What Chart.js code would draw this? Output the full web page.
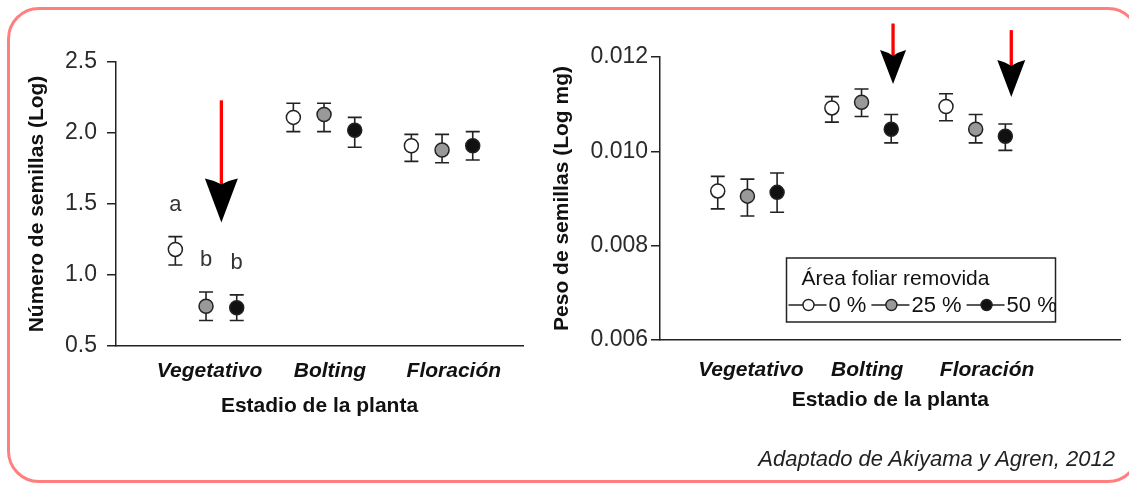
<!DOCTYPE html>
<html>
<head>
<meta charset="utf-8">
<script src="https://cdn.jsdelivr.net/npm/chart.js@4.4.1/dist/chart.umd.min.js"></script>
<style>
  html, body { margin: 0; padding: 0; background: #fff; }
  body { width: 1129px; height: 484px; position: relative; overflow: hidden; font-family: "Liberation Sans", Arial, sans-serif; }
  canvas { position: absolute; top: 0; }
  #left { left: 0; }
  #right { left: 540px; }
  .frame { position: absolute; left: 7px; top: 7px; width: 1133px; height: 476px; box-sizing: border-box;
           border: 3px solid #ff7f7f; border-radius: 32px; pointer-events: none; }
  .credit { position: absolute; right: 14px; top: 448px; font: italic 22px "Liberation Sans", Arial, sans-serif;
            line-height: 1; color: #222; white-space: nowrap; }
</style>
</head>
<body>
<canvas id="left" width="540" height="484"></canvas>
<canvas id="right" width="589" height="484"></canvas>
<div class="frame"></div>
<div class="credit">Adaptado de Akiyama y Agren, 2012</div>
<script>
// categories and treatments
const stages = ['Vegetativo', 'Bolting', 'Floración'];
const treatments = ['0 %', '25 %', '50 %'];
const legendTitle = 'Área foliar removida';

// Número de semillas (Log): mean, lower and upper end of error bar
const seedNum0 = [1.18, 2.11, 1.91];
const seedNum0Lo = [1.07, 2.01, 1.80];
const seedNum0Hi = [1.27, 2.21, 1.99];
const seedNum25 = [0.78, 2.13, 1.88];
const seedNum25Lo = [0.68, 2.01, 1.79];
const seedNum25Hi = [0.88, 2.21, 1.99];
const seedNum50 = [0.77, 2.02, 1.91];
const seedNum50Lo = [0.68, 1.90, 1.81];
const seedNum50Hi = [0.86, 2.11, 2.01];
const seedNumTicks = [0.5, 1.0, 1.5, 2.0, 2.5];

// Peso de semillas (Log mg)
const seedWt0 = [0.00916, 0.01092, 0.01095];
const seedWt0Lo = [0.00878, 0.01062, 0.01065];
const seedWt0Hi = [0.00947, 0.01116, 0.01122];
const seedWt25 = [0.00905, 0.01104, 0.01047];
const seedWt25Lo = [0.00863, 0.01074, 0.01018];
const seedWt25Hi = [0.00941, 0.01132, 0.01078];
const seedWt50 = [0.00913, 0.01047, 0.01032];
const seedWt50Lo = [0.00871, 0.01018, 0.01002];
const seedWt50Hi = [0.00954, 0.01078, 0.01058];
const seedWtTicks = [0.006, 0.008, 0.010, 0.012];

// significance letters over the Vegetativo points
const vegLetters = ['a', 'b', 'b'];

// layout bits
const dodge = [-0.26, 0, 0.26];
const stageLabelAt = [0.03, 1.05, 2.1];
const fills = ['#ffffff', '#999999', '#111111'];
const FONT = '"Liberation Sans", Arial, sans-serif';

Chart.defaults.font.family = FONT;
Chart.defaults.color = '#222';

// vertical error bars with caps, under the points
const errorBars = {
  id: 'errorBars',
  beforeDatasetsDraw(chart) {
    const { ctx, scales: { x, y } } = chart;
    ctx.save();
    ctx.strokeStyle = '#222';
    ctx.lineWidth = 1.6;
    chart.data.datasets.forEach(ds => {
      ds.data.forEach((p, i) => {
        const px = x.getPixelForValue(p.x);
        const top = y.getPixelForValue(ds.hi[i]);
        const bot = y.getPixelForValue(ds.lo[i]);
        ctx.beginPath();
        ctx.moveTo(px, top); ctx.lineTo(px, bot);
        ctx.moveTo(px - 7, top); ctx.lineTo(px + 7, top);
        ctx.moveTo(px - 7, bot); ctx.lineTo(px + 7, bot);
        ctx.stroke();
      });
    });
    ctx.restore();
  }
};

// red shaft + black arrowhead
const arrows = {
  id: 'arrows',
  afterDraw(chart, args, opts) {
    const { ctx, scales: { x, y } } = chart;
    ctx.save();
    (opts.items || []).forEach(a => {
      const px = x.getPixelForValue(a.x);
      const top = y.getPixelForValue(a.from);
      const tip = y.getPixelForValue(a.to);
      const base = tip - a.head;
      ctx.strokeStyle = '#ff0000';
      ctx.lineWidth = 3.3;
      ctx.beginPath();
      ctx.moveTo(px, top);
      ctx.lineTo(px, base + 8);
      ctx.stroke();
      ctx.fillStyle = '#000';
      ctx.beginPath();
      ctx.moveTo(px - a.w / 2, base);
      ctx.quadraticCurveTo(px - a.w / 5, base + 2, px, base + 6);
      ctx.quadraticCurveTo(px + a.w / 5, base + 2, px + a.w / 2, base);
      ctx.lineTo(px, tip);
      ctx.closePath();
      ctx.fill();
    });
    ctx.restore();
  }
};

// letters above the error bars
const letters = {
  id: 'letters',
  afterDatasetsDraw(chart, args, opts) {
    if (!opts.text) return;
    const { ctx, scales: { x, y } } = chart;
    ctx.save();
    ctx.fillStyle = '#333';
    ctx.font = '22px ' + FONT;
    ctx.textAlign = 'center';
    ctx.textBaseline = 'alphabetic';
    opts.text.forEach((t, s) => {
      const ds = chart.data.datasets[s];
      const px = x.getPixelForValue(ds.data[opts.index].x);
      const py = y.getPixelForValue(ds.hi[opts.index]);
      ctx.fillText(t, px, py - 26);
    });
    ctx.restore();
  }
};

// boxed legend: title line, then line+marker items
const legendBox = {
  id: 'legendBox',
  afterDraw(chart, args, opts) {
    if (!opts.show) return;
    const { ctx, chartArea } = chart;
    const w = 269, h = 64;
    const bx = chartArea.right - opts.right - w;
    const by = chartArea.bottom - opts.bottom - h;
    ctx.save();
    ctx.fillStyle = '#fff';
    ctx.fillRect(bx, by, w, h);
    ctx.strokeStyle = '#222';
    ctx.lineWidth = 1.5;
    ctx.strokeRect(bx, by, w, h);
    ctx.fillStyle = '#111';
    ctx.font = '21px ' + FONT;
    ctx.textAlign = 'left';
    ctx.textBaseline = 'alphabetic';
    ctx.fillText(legendTitle, bx + 15, by + 27);
    ctx.font = '22px ' + FONT;
    let cx = bx + 2;
    const cy = by + 47;
    chart.data.datasets.forEach(ds => {
      ctx.strokeStyle = '#222';
      ctx.lineWidth = 1.4;
      ctx.beginPath();
      ctx.moveTo(cx, cy); ctx.lineTo(cx + 38, cy);
      ctx.stroke();
      ctx.beginPath();
      ctx.arc(cx + 20, cy, 5.5, 0, Math.PI * 2);
      ctx.fillStyle = ds.backgroundColor;
      ctx.fill();
      ctx.stroke();
      ctx.fillStyle = '#111';
      ctx.textBaseline = 'middle';
      ctx.fillText(ds.label, cx + 40, cy + 1);
      cx += 40 + ctx.measureText(ds.label).width + 5;
    });
    ctx.restore();
  }
};

function makeChart(id, cfg) {
  const datasets = treatments.map((t, s) => ({
    label: t,
    data: stages.map((_, i) => ({ x: i + dodge[s], y: cfg.mean[s][i] })),
    lo: cfg.lo[s],
    hi: cfg.hi[s],
    backgroundColor: fills[s],
    borderColor: '#222',
    borderWidth: 1.5,
    pointRadius: 7,
    pointHoverRadius: 7
  }));

  return new Chart(document.getElementById(id), {
    type: 'scatter',
    data: { datasets },
    options: {
      responsive: false,
      animation: false,
      devicePixelRatio: 1,
      events: [],
      layout: { padding: cfg.padding },
      plugins: {
        legend: { display: false },
        tooltip: { enabled: false },
        arrows: { items: cfg.arrows },
        letters: cfg.letters,
        legendBox: cfg.legend
      },
      scales: {
        x: {
          type: 'linear',
          min: cfg.xMin,
          max: cfg.xMax,
          grid: { display: false },
          border: { color: '#222', width: 1.5 },
          afterBuildTicks: s => { s.ticks = stageLabelAt.map(v => ({ value: v })); },
          ticks: {
            autoSkip: false,
            maxRotation: 0,
            padding: cfg.xTickPad,
            color: '#111',
            font: { size: 21, weight: 'bold', style: 'italic' },
            callback: (v, i) => stages[i]
          },
          title: {
            display: true,
            text: 'Estadio de la planta',
            color: '#111',
            font: { size: 21, weight: 'bold' },
            padding: { top: 0, bottom: 7 }
          },
          afterFit: s => { s.height = 80; }
        },
        y: {
          min: cfg.yMin,
          max: cfg.yMax,
          afterBuildTicks: s => { s.ticks = cfg.yTicks.map(v => ({ value: v })); },
          grid: { drawOnChartArea: false, drawTicks: true, tickLength: 9, color: '#222', lineWidth: 1.5 },
          border: { color: '#222', width: 1.5 },
          ticks: {
            padding: cfg.yTickPad,
            color: '#2a2a2a',
            font: { size: 23 },
            callback: v => v.toFixed(cfg.dec)
          },
          title: {
            display: true,
            text: cfg.yTitle,
            color: '#111',
            font: { size: 21, weight: 'bold' },
            padding: { top: cfg.yTitlePad, bottom: 0 }
          },
          afterFit: s => { s.width = cfg.yWidth; }
        }
      }
    },
    plugins: [errorBars, letters, arrows, legendBox]
  });
}

makeChart('left', {
  mean: [seedNum0, seedNum25, seedNum50],
  lo: [seedNum0Lo, seedNum25Lo, seedNum50Lo],
  hi: [seedNum0Hi, seedNum25Hi, seedNum50Hi],
  yMin: 0.5, yMax: 2.5, yTicks: seedNumTicks, dec: 1,
  yTitle: 'Número de semillas (Log)',
  xMin: -0.763, xMax: 2.686,
  padding: { left: 0, right: 17, top: 62, bottom: 58 },
  yWidth: 116, yTitlePad: 25, yTickPad: 10, xTickPad: 5,
  arrows: [{ x: 0.13, from: 2.23, to: 1.37, head: 44, w: 33 }],
  letters: { index: 0, text: vegLetters },
  legend: { show: false }
});

makeChart('right', {
  mean: [seedWt0, seedWt25, seedWt50],
  lo: [seedWt0Lo, seedWt25Lo, seedWt50Lo],
  hi: [seedWt0Hi, seedWt25Hi, seedWt50Hi],
  yMin: 0.006, yMax: 0.012, yTicks: seedWtTicks, dec: 3,
  yTitle: 'Peso de semillas (Log mg)',
  xMin: -0.766, xMax: 3.269,
  padding: { left: 0, right: 8, top: 57, bottom: 64 },
  yWidth: 120, yTitlePad: 10, yTickPad: 3, xTickPad: 10,
  arrows: [
    { x: 1.276, from: 0.01271, to: 0.01143, head: 34, w: 26 },
    { x: 2.312, from: 0.01257, to: 0.01115, head: 37, w: 28 }
  ],
  letters: {},
  legend: { show: true, right: 65, bottom: 18 }
});
</script>
</body>
</html>
